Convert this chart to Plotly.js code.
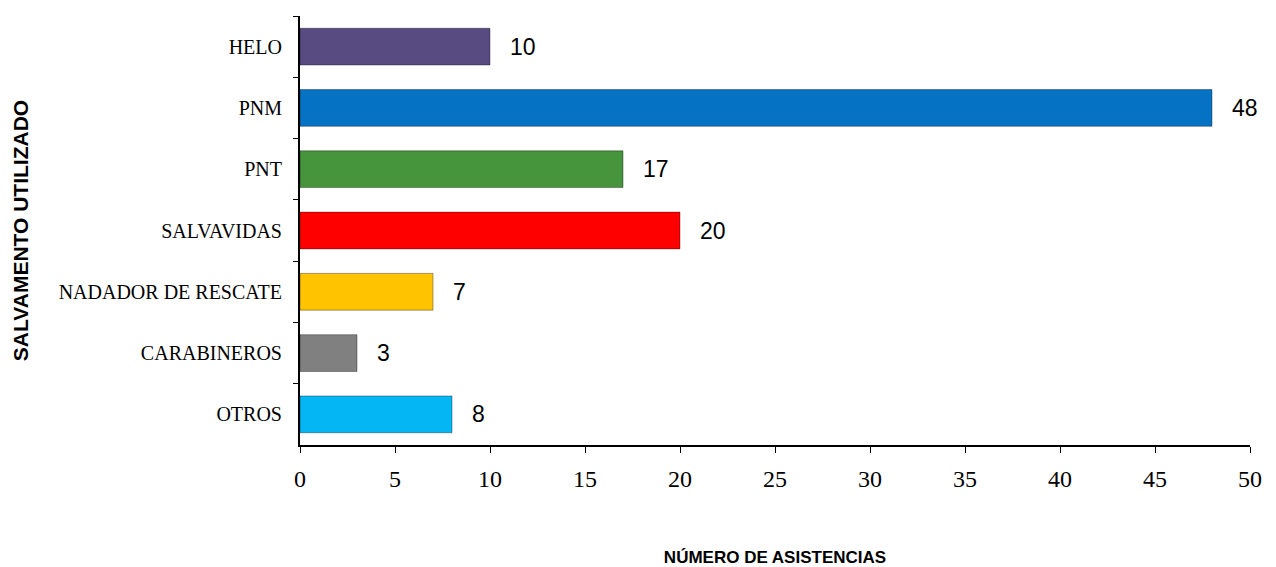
<!DOCTYPE html>
<html>
<head>
<meta charset="utf-8">
<script src="https://cdn.plot.ly/plotly-3.0.1.min.js"></script>
<style>html,body{margin:0;padding:0;background:#fff;}#chart{width:1276px;height:567px;}</style>
</head>
<body>
<div id="chart"></div>
<script>
var categories = ["HELO", "PNM", "PNT", "SALVAVIDAS", "NADADOR DE RESCATE", "CARABINEROS", "OTROS"];
var values = [10, 48, 17, 20, 7, 3, 8];
var colors = ["#574B82", "#0672C4", "#46943C", "#FF0000", "#FFC300", "#808080", "#05B6F5"];
var xTicks = [0, 5, 10, 15, 20, 25, 30, 35, 40, 45, 50];

var trace = {
  type: "bar",
  orientation: "h",
  y: categories,
  x: values,
  marker: { color: colors, line: { color: "rgba(0,0,0,0.35)", width: 1 } },
  hoverinfo: "x+y"
};

var annotations = categories.map(function (c, i) {
  return {
    x: values[i], y: c, xref: "x", yref: "y",
    text: String(values[i]), showarrow: false,
    xanchor: "left", xshift: 18,
    font: { family: "Liberation Sans, Arial, sans-serif", size: 23, color: "#000" }
  };
});

var layout = {
  width: 1276, height: 567,
  margin: { l: 300, r: 26, t: 16, b: 122 },
  paper_bgcolor: "#fff", plot_bgcolor: "#fff",
  showlegend: false,
  bargap: 0.4,
  font: { family: "Liberation Serif, Times New Roman, serif", color: "#000" },
  xaxis: {
    range: [0, 50], tickvals: xTicks, ticktext: xTicks.map(String),
    showgrid: false, zeroline: false,
    showline: true, linecolor: "#000", linewidth: 2,
    ticks: "outside", ticklen: 6, tickcolor: "#000", tickwidth: 1,
    tickfont: { family: "Liberation Serif, Times New Roman, serif", size: 24 },
    ticklabelstandoff: 5,
    title: { text: "NÚMERO DE ASISTENCIAS", standoff: 62,
      font: { family: "Liberation Sans, Arial, sans-serif", size: 17, weight: "bold" } },
    fixedrange: true
  },
  yaxis: {
    autorange: "reversed", type: "category",
    showgrid: false, zeroline: false,
    showline: true, linecolor: "#000", linewidth: 2,
    ticks: "outside", tickson: "boundaries", ticklen: 5, tickcolor: "#000",
    tickfont: { family: "Liberation Serif, Times New Roman, serif", size: 20 },
    ticklabelstandoff: 12,
    title: { text: "SALVAMENTO UTILIZADO", standoff: 24,
      font: { family: "Liberation Sans, Arial, sans-serif", size: 21, weight: "bold" } },
    fixedrange: true
  },
  annotations: annotations
};

Plotly.newPlot("chart", [trace], layout, { displayModeBar: false, staticPlot: true });
</script>
</body>
</html>
